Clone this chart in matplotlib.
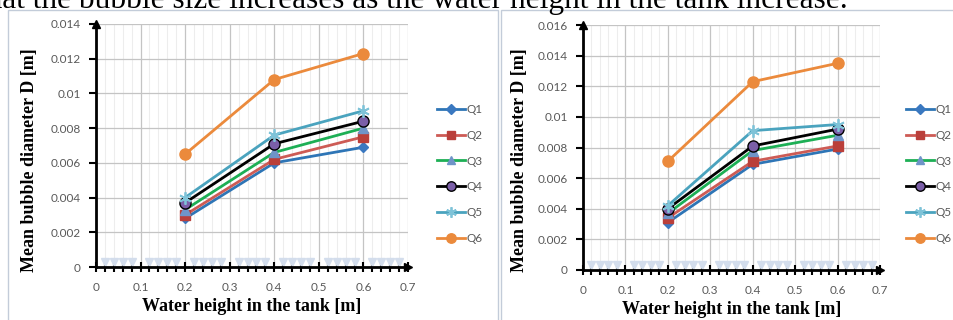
import matplotlib
matplotlib.use('Agg')

import matplotlib.pyplot as plt
from matplotlib.patches import Rectangle
from matplotlib.ticker import MultipleLocator

# water height [m]
heights = [0.2, 0.4, 0.6]
series_names = ["Q1", "Q2", "Q3", "Q4", "Q5", "Q6"]

# left chart: mean bubble diameter [m]
left_q1 = [0.0028, 0.0060, 0.0069]
left_q2 = [0.0030, 0.0062, 0.0075]
left_q3 = [0.0033, 0.0066, 0.0080]
left_q4 = [0.0037, 0.0071, 0.0084]
left_q5 = [0.0040, 0.0076, 0.0090]
left_q6 = [0.0065, 0.0108, 0.0123]

# right chart: mean bubble diameter [m]
right_q1 = [0.0031, 0.0069, 0.0079]
right_q2 = [0.0034, 0.0071, 0.0081]
right_q3 = [0.0037, 0.0078, 0.0088]
right_q4 = [0.0040, 0.0081, 0.0092]
right_q5 = [0.0042, 0.0091, 0.0095]
right_q6 = [0.0071, 0.0123, 0.0135]

# faint markers sitting on the x axis (hidden series in the original sheet)
axis_marks_x = [0.02, 0.04, 0.06, 0.08, 0.12, 0.14, 0.16, 0.18,
                0.22, 0.24, 0.26, 0.28, 0.32, 0.34, 0.36, 0.38,
                0.42, 0.44, 0.46, 0.48, 0.52, 0.54, 0.56, 0.58,
                0.62, 0.64, 0.66, 0.68]

styles = [
    dict(color="#2E75B6", marker="D", mfc="#3A78C0", mec="#3A78C0", ms=5.5),
    dict(color="#CD5B55", marker="s", mfc="#BA3F3A", mec="#BA3F3A", ms=6.5),
    dict(color="#1DAF55", marker="^", mfc="#6F94C8", mec="#6F94C8", ms=6.5),
    dict(color="#000000", marker="o", mfc="#7B5FA8", mec="#000000", ms=8),
    dict(color="#4AA3BE", marker=(6, 2, 0), mfc="#7FC3D8", mec="#7FC3D8", ms=9, mew=1.3),
    dict(color="#EB8A3C", marker="o", mfc="#EB8A3C", mec="#EB8A3C", ms=8),
]

W, H = 954, 320
fig = plt.figure(figsize=(W / 100, H / 100), dpi=100)

serif = "Liberation Serif"
sans = "Lato"
tick_color = "#595959"


def fx(px):
    return px / W


def fy(py):
    return 1 - py / H


# clipped line of document text at the top
fig.text(fx(848), fy(8), "that the bubble size increases as the water height in the tank increase.",
         ha="right", va="baseline", family=serif, fontsize=22.6, color="black")

# chart frames
for x0, x1 in [(8, 498), (501, 965)]:
    fig.add_artist(Rectangle((fx(x0), fy(330)), fx(x1 - x0), (320) / H,
                             transform=fig.transFigure, fill=False,
                             edgecolor="#C3CCD9", linewidth=1))


def draw_chart(rect, data, ymax, ylabel_x, legend_xy):
    ax = fig.add_axes(rect)
    for name, vals, st in zip(series_names, data, styles):
        st = dict(st)
        mew = st.pop("mew", 1)
        ax.plot(heights, vals, label=name, linewidth=2, markeredgewidth=mew,
                clip_on=False, zorder=3, **st)

    ax.plot(axis_marks_x, [ymax * 0.021] * len(axis_marks_x), linestyle="none",
            marker="v", ms=6, color="#D3DDEC", zorder=2)

    ax.set_xlim(0, 0.7)
    ax.set_ylim(0, ymax)
    ax.xaxis.set_major_locator(MultipleLocator(0.1))
    ax.xaxis.set_minor_locator(MultipleLocator(0.02))
    ax.yaxis.set_major_locator(MultipleLocator(0.002))

    ax.grid(which="major", color="#C4C4C4", linewidth=0.9)
    ax.grid(which="minor", axis="x", color="#EDEDED", linewidth=0.8)
    ax.set_axisbelow(True)

    for side in ("top", "right"):
        ax.spines[side].set_visible(False)
    for side in ("left", "bottom"):
        ax.spines[side].set_linewidth(2)
        ax.spines[side].set_zorder(4)

    ax.tick_params(axis="both", which="major", length=5, width=1.5, color="black",
                   labelsize=8.5, labelcolor=tick_color)
    ax.tick_params(axis="x", which="major", direction="inout", length=7, pad=7)
    ax.tick_params(axis="x", which="minor", direction="inout", length=7, width=1.5,
                   color="black")
    ax.tick_params(axis="y", which="major", direction="out", length=5, pad=6)

    ax.set_xticklabels([f"{v:g}" for v in ax.get_xticks()], family=sans)
    ax.set_yticklabels([f"{v:g}" for v in ax.get_yticks()], family=sans)

    # arrow heads on the axes
    ax.plot([0], [1], marker="^", ms=6, color="black", transform=ax.transAxes,
            clip_on=False, zorder=5)
    ax.plot([1], [0], marker=">", ms=6, color="black", transform=ax.transAxes,
            clip_on=False, zorder=5)

    ax.set_xlabel("Water height in the tank [m]", family=serif, fontweight="bold",
                  fontsize=13, labelpad=4)
    ax.set_ylabel("Mean bubble diameter D [m]", family=serif, fontweight="bold",
                  fontsize=13)
    ax.yaxis.set_label_coords(ylabel_x, 0.5, transform=fig.transFigure)

    leg = ax.legend(loc="upper left", bbox_to_anchor=legend_xy,
                    bbox_transform=fig.transFigure, frameon=False,
                    prop=dict(family=sans, size=8.5), handlelength=2.4,
                    handletextpad=0.1, labelspacing=1.25, borderpad=0,
                    borderaxespad=0, markerscale=0.85)
    for t in leg.get_texts():
        t.set_color(tick_color)
    return ax


draw_chart([fx(96), fy(267), fx(408 - 96), (267 - 24) / H],
           [left_q1, left_q2, left_q3, left_q4, left_q5, left_q6],
           0.014, fx(38), (fx(437), fy(104)))

draw_chart([fx(583), fy(270), fx(880 - 583), (270 - 25) / H],
           [right_q1, right_q2, right_q3, right_q4, right_q5, right_q6],
           0.016, fx(528), (fx(906), fy(104)))

fig.savefig("out.png", dpi=100)
